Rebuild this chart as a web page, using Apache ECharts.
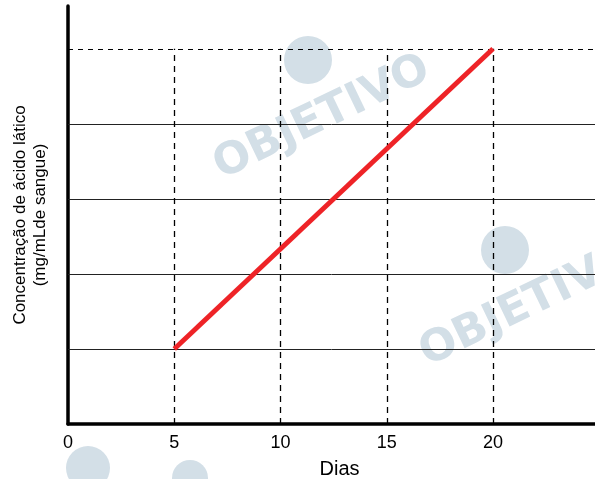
<!DOCTYPE html>
<html><head><meta charset="utf-8">
<script src="https://cdn.jsdelivr.net/npm/echarts@6/dist/echarts.min.js"></script>
<style>html,body{margin:0;padding:0;background:#fff}#c{width:595px;height:479px}</style>
</head><body><div id="c"></div>
<script>
const xTicks = [0, 5, 10, 15, 20];
const lineX = [5, 20];
const lineY = [1, 5];
const guideX = [5, 10, 15, 20];
const solidLevels = [1, 2, 3, 4];
const topLevel = 5;

const chart = echarts.init(document.getElementById('c'));
const markData = [];
solidLevels.forEach(v => markData.push([{coord:[0, v], lineStyle:{type:'solid', color:'#222', width:1}}, {coord:[24.8, v]}]));
markData.push([{coord:[0, topLevel], lineStyle:{type:[5,5], color:'#000', width:1}}, {coord:[24.8, topLevel]}]);
guideX.forEach(x => markData.push([{coord:[x, 0], lineStyle:{type:[6,5], color:'#000', width:1.3}}, {coord:[x, topLevel]}]));

const wm = (x, y) => ({
  type:'text', x:x, y:y, rotation: 0.45, z: 0,
  style:{text:'OBJETIVO', fill:'#d3dfe7', font:'bold 44px "DejaVu Sans"', textAlign:'center', textVerticalAlign:'middle'}
});
const circ = (x, y, r) => ({type:'circle', shape:{cx:x, cy:y, r:r}, style:{fill:'#d3dfe7'}, z:0});

chart.setOption({
  animation:false,
  graphic:[wm(322, 118), circ(308, 60, 24), wm(528, 305), circ(505, 250, 24), circ(88, 468, 22), circ(190, 478, 18)],
  grid:{left:68, right:0, top:6, bottom:55, outerBoundsMode:'none', containLabel:false},
  xAxis:{type:'value', min:0, max:24.8, interval:5,
    axisLine:{lineStyle:{color:'#000', width:3.5}},
    axisTick:{show:false}, splitLine:{show:false},
    axisLabel:{color:'#000', fontSize:18, fontFamily:'Liberation Sans', margin:10,
      formatter: v => xTicks.includes(v) ? String(v) : ''},
    name:'Dias', nameLocation:'middle', nameGap:35,
    nameTextStyle:{color:'#000', fontSize:20, fontFamily:'Liberation Sans', padding:[0,0,0,16]}},
  yAxis:{type:'value', min:0, max:5.57,
    axisLine:{show:true, lineStyle:{color:'#000', width:3.5}},
    axisTick:{show:false}, splitLine:{show:false}, axisLabel:{show:false},
    name:'Concentração de ácido lático\n(mg/mLde sangue)', nameLocation:'middle', nameGap:18,
    nameTextStyle:{color:'#000', fontSize:17, fontFamily:'Liberation Sans', lineHeight:20}},
  series:[{type:'line', data: lineX.map((x,i)=>[x, lineY[i]]), symbol:'none',
    lineStyle:{color:'#ee2327', width:5}, z:5,
    markLine:{silent:true, symbol:'none', label:{show:false}, z:3, data:markData}}]
});
</script></body></html>
